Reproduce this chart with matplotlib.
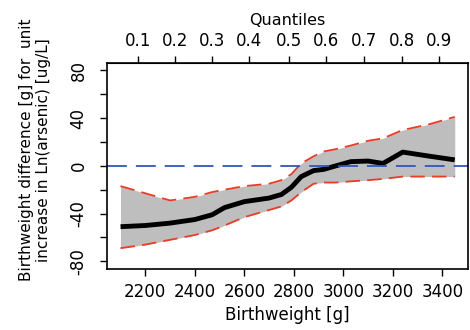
import numpy as np
import matplotlib
matplotlib.use("Agg")
import matplotlib.pyplot as plt

# birthweight grid [g]
bw = [2100, 2200, 2300, 2400, 2470, 2520, 2600, 2700, 2750, 2790,
      2830, 2880, 2920, 2970, 3030, 3100, 3160, 3240, 3350, 3450]
# estimated difference and confidence bounds
est = [-51, -50, -48, -45, -41, -35, -30, -27, -24, -18,
       -9, -4, -3, 0, 3.5, 4, 2, 11.5, 8, 5]
upper = [-17, -23, -29, -26, -22, -20, -17, -15, -12, -7,
         2, 8, 12, 14, 17, 21, 23, 30, 35, 41]
lower = [-69, -66, -62, -58, -54, -50, -43, -37, -34, -29,
         -22, -15, -14, -14, -13, -12, -11, -9, -9, -9]

# quantiles of birthweight for the top axis
q_labels = ["0.1", "0.2", "0.3", "0.4", "0.5", "0.6", "0.7", "0.8", "0.9"]
q_pos = [2172, 2321, 2470, 2619, 2780, 2931, 3083, 3236, 3388]

x_ticks = [2200, 2400, 2600, 2800, 3000, 3200, 3400]
y_ticks = [-80, -60, -40, -20, 0, 20, 40, 60, 80]

plt.rcParams['font.family'] = 'DejaVu Sans'
plt.rcParams['font.size'] = 12

fig = plt.figure(figsize=(4.7, 3.3), dpi=100)
ax = fig.add_axes([0.228, 0.185, 0.768, 0.625])

ax.fill_between(bw, lower, upper, color='#bebebe', lw=0)
ax.plot(bw, upper, color='#ee3a22', lw=1.3, dashes=(8, 4))
ax.plot(bw, lower, color='#ee3a22', lw=1.3, dashes=(8, 4))
ax.plot(bw, est, color='black', lw=3.5, solid_capstyle='butt')
ax.axhline(0, color='#3355bb', lw=1.3, dashes=(11, 5))

ax.set_xlim(2046, 3504)
ax.set_ylim(-86.4, 86.4)

ax.set_xticks(x_ticks)
ax.set_yticks(y_ticks)
ax.set_yticklabels([str(v) if v % 40 == 0 else '' for v in y_ticks])
ax.tick_params(axis='both', direction='out', length=5, width=1, pad=5)
ax.tick_params(axis='y', labelrotation=90, pad=9)
for lab in ax.get_yticklabels():
    lab.set_va('center')

for s in ax.spines.values():
    s.set_linewidth(1.2)

ax.set_xlabel("Birthweight [g]", labelpad=4)
fig.text(35 / 470, 0.545,
         "Birthweight difference [g] for  unit\nincrease in Ln(arsenic) [ug/L]",
         rotation=90, ha='center', va='center', fontsize=11, linespacing=1.1)

top = ax.secondary_xaxis('top')
top.set_xticks(q_pos)
top.set_xticklabels(q_labels)
top.tick_params(direction='out', length=5, width=1, pad=4)
top.set_xlabel("Quantiles", labelpad=5, fontsize=11.5)

fig.savefig("out.png", dpi=100)
